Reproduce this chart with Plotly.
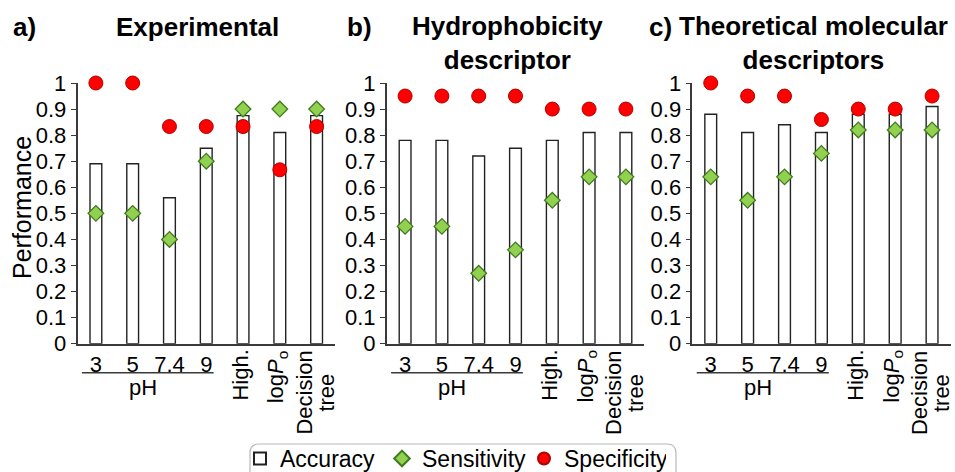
import plotly.graph_objects as go

# ---- data ----
ph_labels = ["3", "5", "7.4", "9"]
method_labels = ["High.", "log<i>P</i><sub>o</sub>", "Decision<br>tree"]
categories = ph_labels + method_labels

panel_letters = ["a)", "b)", "c)"]
panel_titles = ["Experimental", "Hydrophobicity<br>descriptor", "Theoretical molecular<br>descriptors"]

acc_exp = [0.69, 0.69, 0.56, 0.75, 0.875, 0.81, 0.875]
sens_exp = [0.50, 0.50, 0.40, 0.70, 0.90, 0.90, 0.90]
spec_exp = [1.00, 1.00, 0.833, 0.833, 0.833, 0.667, 0.833]

acc_hyd = [0.78, 0.78, 0.72, 0.75, 0.78, 0.81, 0.81]
sens_hyd = [0.45, 0.45, 0.27, 0.36, 0.55, 0.64, 0.64]
spec_hyd = [0.95, 0.95, 0.95, 0.95, 0.90, 0.90, 0.90]

acc_theo = [0.88, 0.81, 0.84, 0.81, 0.88, 0.88, 0.91]
sens_theo = [0.64, 0.55, 0.64, 0.73, 0.82, 0.82, 0.82]
spec_theo = [1.00, 0.95, 0.95, 0.86, 0.90, 0.90, 0.95]

panels = [
    (acc_exp, sens_exp, spec_exp),
    (acc_hyd, sens_hyd, spec_hyd),
    (acc_theo, sens_theo, spec_theo),
]

# ---- layout helpers (pixel -> paper) ----
W, H = 955, 472
FONT = "Arial, Liberation Sans, sans-serif"
AXIS_COLOR = "#3a3a3a"
LABEL_SIZE = 22


def px_x(p):
    return p / W


def px_y(p):
    return 1 - p / H


x_domains = [(77.5, 335.0), (386.7, 644.3), (692.3, 950.5)]
y_domain = (px_y(343.7), px_y(83.0))
title_centers = [197.5, 507.0, 813.5]
title_y = [27.0, 42.5, 42.5]
letter_x = [11.0, 345.0, 647.0]

xs = list(range(len(categories)))

fig = go.Figure()

for i, (acc, sens, spec) in enumerate(panels):
    sfx = "" if i == 0 else str(i + 1)
    show = i == 0
    fig.add_trace(go.Bar(
        x=xs, y=acc, width=0.32, name="Accuracy",
        marker=dict(color="white", line=dict(color="#222222", width=1.4)),
        xaxis="x" + sfx, yaxis="y" + sfx, showlegend=show, legendrank=1,
    ))
    fig.add_trace(go.Scatter(
        x=xs, y=sens, mode="markers", name="Sensitivity",
        marker=dict(symbol="diamond", size=12, color="#92D050",
                    line=dict(color="#3f7a1f", width=1.3)),
        xaxis="x" + sfx, yaxis="y" + sfx, showlegend=show, cliponaxis=False, legendrank=2,
    ))
    fig.add_trace(go.Scatter(
        x=xs, y=spec, mode="markers", name="Specificity",
        marker=dict(symbol="circle", size=14, color="#FF0000",
                    line=dict(color="#B00000", width=1)),
        xaxis="x" + sfx, yaxis="y" + sfx, showlegend=show, cliponaxis=False, legendrank=3,
    ))

layout = dict(
    width=W, height=H,
    margin=dict(l=0, r=0, t=0, b=0, autoexpand=False),
    paper_bgcolor="white", plot_bgcolor="white",
    font=dict(family=FONT, size=LABEL_SIZE, color="black"),
    barmode="overlay",
    showlegend=True,
    legend=dict(
        orientation="h", x=px_x(240), xanchor="left",
        y=px_y(437), yanchor="top",
        borderwidth=0, bgcolor="rgba(0,0,0,0)",
        font=dict(family=FONT, size=23, color="black"),
        itemsizing="constant", tracegroupgap=0, itemwidth=30,
        entrywidth=97, entrywidthmode="pixels",
    ),
)

annotations = []
shapes = []
for i in range(3):
    sfx = "" if i == 0 else str(i + 1)
    xa = "xaxis" + sfx
    ya = "yaxis" + sfx
    xref = "x" + sfx
    layout[xa] = dict(
        domain=[px_x(x_domains[i][0]), px_x(x_domains[i][1])],
        anchor="y" + sfx, range=[-0.5, 6.5],
        showline=True, linecolor=AXIS_COLOR, linewidth=1.5,
        showgrid=False, zeroline=False, ticks="",
        tickvals=xs[:4], ticktext=ph_labels,
        tickfont=dict(size=LABEL_SIZE), fixedrange=True,
    )
    layout[ya] = dict(
        domain=list(y_domain), anchor="x" + sfx, range=[0, 1],
        showline=True, linecolor=AXIS_COLOR, linewidth=1.5,
        showgrid=False, zeroline=False,
        ticks="outside", ticklen=5, tickwidth=1.3, tickcolor=AXIS_COLOR,
        tickvals=[k / 10 for k in range(11)],
        ticktext=["0", "0.1", "0.2", "0.3", "0.4", "0.5", "0.6", "0.7", "0.8", "0.9", "1"],
        tickfont=dict(size=LABEL_SIZE), ticklabelstandoff=0, fixedrange=True,
    )

    # pH bracket under the first four categories
    shapes.append(dict(
        type="line", xref=xref, yref="paper",
        x0=-0.38, x1=3.2, y0=px_y(372.7), y1=px_y(372.7),
        line=dict(color=AXIS_COLOR, width=1.5),
    ))
    annotations.append(dict(
        text="pH", xref=xref, yref="paper", x=1.28, y=px_y(387),
        xanchor="center", yanchor="middle", showarrow=False,
        font=dict(size=LABEL_SIZE),
    ))

    # rotated method labels (multi-line labels set as tightly packed columns)
    for j, lab in enumerate(method_labels):
        lines = lab.split("<br>")
        if len(lines) == 1:
            annotations.append(dict(
                text=lab, xref=xref, yref="paper", x=4 + j, y=px_y(348),
                xanchor="center", yanchor="top", textangle=-90, showarrow=False,
                xshift=-3, font=dict(size=LABEL_SIZE),
            ))
        else:
            shifts = [-13, 9]
            for k, line in enumerate(lines):
                annotations.append(dict(
                    text=line, xref=xref, yref="paper", x=4 + j, y=px_y(393),
                    xanchor="center", yanchor="middle", textangle=-90, showarrow=False,
                    xshift=shifts[k], font=dict(size=LABEL_SIZE),
                ))

    # panel letter and title
    annotations.append(dict(
        text="<b>" + panel_letters[i] + "</b>", xref="paper", yref="paper",
        x=px_x(letter_x[i]), y=px_y(27), xanchor="left", yanchor="middle",
        showarrow=False, font=dict(size=26),
    ))
    annotations.append(dict(
        text="<b>" + panel_titles[i] + "</b>", xref="paper", yref="paper",
        x=px_x(title_centers[i]), y=px_y(title_y[i]), xanchor="center", yanchor="middle",
        showarrow=False, font=dict(size=26),
    ))

annotations.append(dict(
    text="Performance", xref="paper", yref="paper", x=px_x(22), y=px_y(208),
    xanchor="center", yanchor="middle", textangle=-90, showarrow=False,
    font=dict(size=25),
))

# rounded frame around the legend
bx0, bx1, by0, by1, r = 250.0, 676.0, 444.0, 490.0, 9.0
frame = (
    f"M {px_x(bx0 + r)},{px_y(by0)} L {px_x(bx1 - r)},{px_y(by0)} "
    f"Q {px_x(bx1)},{px_y(by0)} {px_x(bx1)},{px_y(by0 + r)} "
    f"L {px_x(bx1)},{px_y(by1 - r)} Q {px_x(bx1)},{px_y(by1)} {px_x(bx1 - r)},{px_y(by1)} "
    f"L {px_x(bx0 + r)},{px_y(by1)} Q {px_x(bx0)},{px_y(by1)} {px_x(bx0)},{px_y(by1 - r)} "
    f"L {px_x(bx0)},{px_y(by0 + r)} Q {px_x(bx0)},{px_y(by0)} {px_x(bx0 + r)},{px_y(by0)} Z"
)
shapes.append(dict(type="path", xref="paper", yref="paper", path=frame,
                   line=dict(color="#b8b8b8", width=1.2), layer="below"))

layout["annotations"] = annotations
layout["shapes"] = shapes
fig.update_layout(**layout)

fig.write_html("out.html", config={"displayModeBar": False})
